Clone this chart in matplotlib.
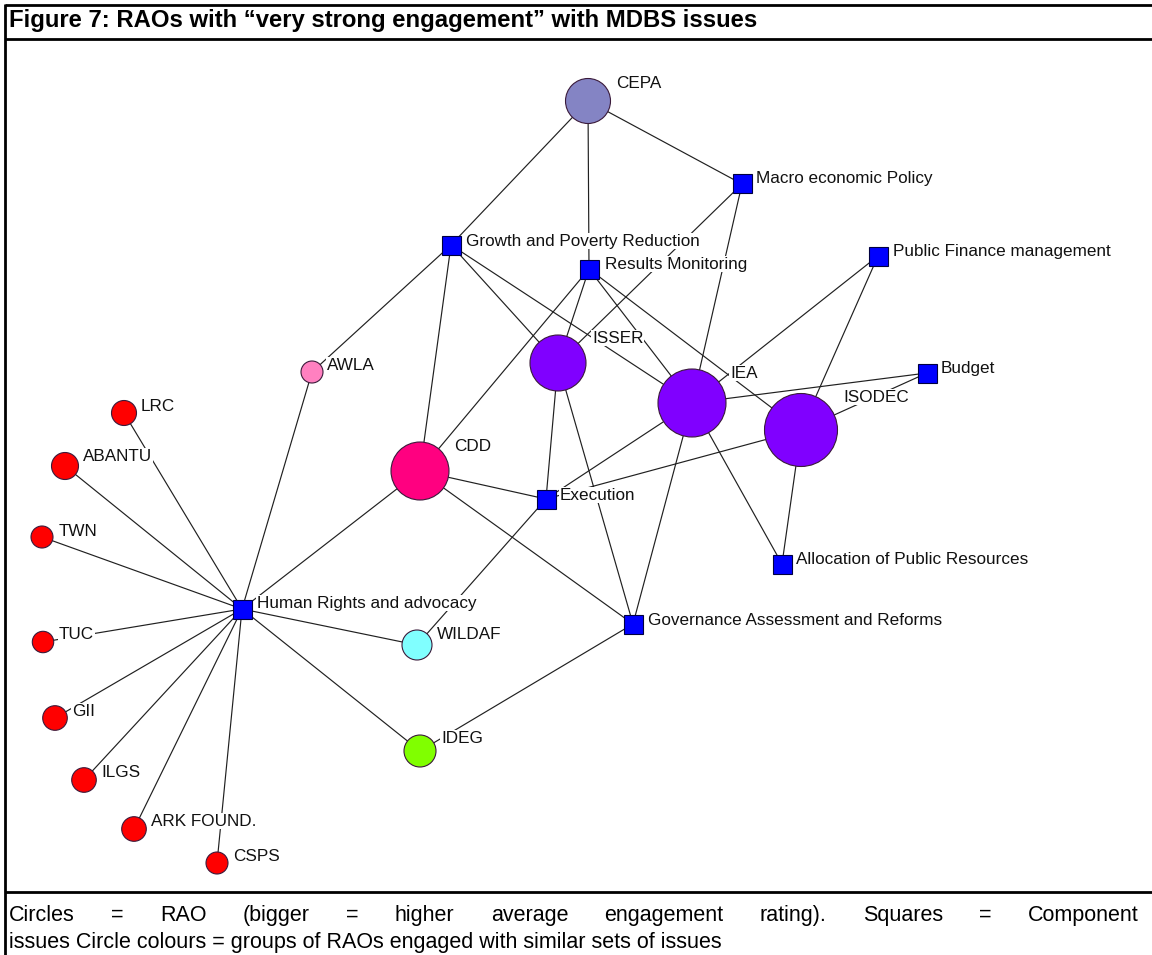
"""Network chart: RAOs with very strong engagement with MDBS issues."""
import matplotlib
matplotlib.use("Agg")
import matplotlib.pyplot as plt
from matplotlib.patches import Circle, Rectangle

# --- Data (pixel layout of the original network drawing) ---
rao_names = ["CEPA", "ISSER", "IEA", "ISODEC", "CDD", "AWLA", "WILDAF", "IDEG",
             "LRC", "ABANTU", "TWN", "TUC", "GII", "ILGS", "ARK FOUND.", "CSPS"]
rao_x = [588, 558, 692, 801, 420, 312, 417, 420, 124, 65, 42, 43, 55, 84, 134, 217]
rao_y = [101, 363, 403, 430, 471, 372, 645, 751, 413, 466, 537, 642, 718, 780, 829, 863]
rao_radius = [22.5, 28, 34, 36.5, 29, 11, 15, 16, 12.5, 13.5, 11, 10.7, 12.3, 12.3, 12.3, 11]
rao_group = ["cepa", "think", "think", "think", "cdd", "awla", "wildaf", "ideg",
             "red", "red", "red", "red", "red", "red", "red", "red"]
rao_label_x = [616, 592, 730, 843, 454, 327, 437, 441, 141, 83, 59, 59, 72, 101, 151, 233]
rao_label_y = [83, 338, 373, 397, 446, 365, 634, 738, 406, 456, 531, 634, 711, 772, 821, 856]

issue_names = ["Macro economic Policy", "Growth and Poverty Reduction", "Results Monitoring",
               "Public Finance management", "Budget", "Execution",
               "Allocation of Public Resources", "Human Rights and advocacy",
               "Governance Assessment and Reforms"]
issue_x = [742, 451, 589, 878, 927, 546, 782, 242, 633]
issue_y = [184, 245, 269, 256, 373, 499, 564, 609, 624]
issue_label_x = [756, 466, 605, 893, 941, 560, 796, 257, 648]
issue_label_y = [178, 241, 264, 251, 368, 495, 559, 603, 620]

edges = [
    ("CEPA", "Growth and Poverty Reduction"), ("CEPA", "Results Monitoring"),
    ("CEPA", "Macro economic Policy"),
    ("ISSER", "Macro economic Policy"), ("IEA", "Macro economic Policy"),
    ("AWLA", "Growth and Poverty Reduction"), ("CDD", "Growth and Poverty Reduction"),
    ("ISSER", "Growth and Poverty Reduction"), ("IEA", "Growth and Poverty Reduction"),
    ("CDD", "Results Monitoring"), ("ISSER", "Results Monitoring"),
    ("IEA", "Results Monitoring"), ("ISODEC", "Results Monitoring"),
    ("IEA", "Public Finance management"), ("ISODEC", "Public Finance management"),
    ("IEA", "Budget"), ("ISODEC", "Budget"),
    ("IEA", "Execution"), ("ISODEC", "Execution"), ("ISSER", "Execution"),
    ("CDD", "Execution"), ("WILDAF", "Execution"),
    ("ISSER", "Governance Assessment and Reforms"), ("IEA", "Governance Assessment and Reforms"),
    ("CDD", "Governance Assessment and Reforms"), ("IDEG", "Governance Assessment and Reforms"),
    ("IEA", "Allocation of Public Resources"), ("ISODEC", "Allocation of Public Resources"),
    ("AWLA", "Human Rights and advocacy"), ("CDD", "Human Rights and advocacy"),
    ("LRC", "Human Rights and advocacy"), ("ABANTU", "Human Rights and advocacy"),
    ("TWN", "Human Rights and advocacy"), ("TUC", "Human Rights and advocacy"),
    ("GII", "Human Rights and advocacy"), ("ILGS", "Human Rights and advocacy"),
    ("ARK FOUND.", "Human Rights and advocacy"), ("CSPS", "Human Rights and advocacy"),
    ("WILDAF", "Human Rights and advocacy"), ("IDEG", "Human Rights and advocacy"),
]

title = "Figure 7: RAOs with \u201cvery strong engagement\u201d with MDBS issues"
caption_lines = [
    "Circles = RAO (bigger = higher average engagement rating). Squares = Component",
    "issues Circle colours = groups of RAOs engaged with similar sets of issues",
]

GROUP_COLORS = {
    "cepa": "#8484C4", "think": "#8000FF", "cdd": "#FF0080", "awla": "#FF80C0",
    "wildaf": "#80FFFF", "ideg": "#80FF00", "red": "#FF0000",
}
SQUARE = 19

plt.rcParams["font.family"] = ["Liberation Sans", "DejaVu Sans"]

W, H = 1152, 955
fig = plt.figure(figsize=(W / 100, H / 100), dpi=100)
ax = fig.add_axes([0, 0, 1, 1])
ax.set_xlim(0, W)
ax.set_ylim(H, 0)
ax.axis("off")

pos = {n: (x, y) for n, x, y in zip(rao_names, rao_x, rao_y)}
pos.update({n: (x, y) for n, x, y in zip(issue_names, issue_x, issue_y)})

# edges
for a, b in edges:
    (x0, y0), (x1, y1) = pos[a], pos[b]
    ax.plot([x0, x1], [y0, y1], color="#202020", lw=0.85, zorder=1,
            solid_capstyle="butt")

# labels (white box hides the edges behind them)
box = dict(facecolor="white", edgecolor="none", pad=0.6)
for n, lx, ly in zip(rao_names + issue_names, rao_label_x + issue_label_x,
                     rao_label_y + issue_label_y):
    ax.text(lx, ly, n, fontsize=12.3, ha="left", va="center", color="#111111",
            bbox=box, zorder=2)

# nodes
for x, y, r, g in zip(rao_x, rao_y, rao_radius, rao_group):
    ax.add_patch(Circle((x, y), r, facecolor=GROUP_COLORS[g], edgecolor="#3a1a3a",
                        lw=0.8, zorder=3))
for x, y in zip(issue_x, issue_y):
    ax.add_patch(Rectangle((x - SQUARE / 2, y - SQUARE / 2), SQUARE, SQUARE,
                           facecolor="#0000FF", edgecolor="#000040", lw=0.8, zorder=3))

# frame of the document table
frame = dict(color="black", lw=2, zorder=5, solid_capstyle="butt")
ax.plot([5, W], [5, 5], **frame)
ax.plot([5, W], [39, 39], **frame)
ax.plot([5, W], [892, 892], **frame)
ax.plot([5, 5], [4, H], **frame)

ax.text(9, 21, title, fontsize=17.2, fontweight="bold", ha="left", va="center", zorder=6)

# caption, first line justified
fig.canvas.draw()
renderer = fig.canvas.get_renderer()
cap_font = dict(fontsize=15.5)
words = caption_lines[0].split(" ")
objs = [ax.text(0, 915, w, ha="left", va="center", **cap_font) for w in words]
widths = [t.get_window_extent(renderer).width for t in objs]
x_left, x_right = 9, 1139
gap = (x_right - x_left - sum(widths)) / (len(words) - 1)
x = x_left
for t, w in zip(objs, widths):
    t.set_x(x)
    x += w + gap
ax.text(x_left, 942, caption_lines[1], ha="left", va="center", **cap_font)

fig.savefig("out.png", dpi=100, facecolor="white")
